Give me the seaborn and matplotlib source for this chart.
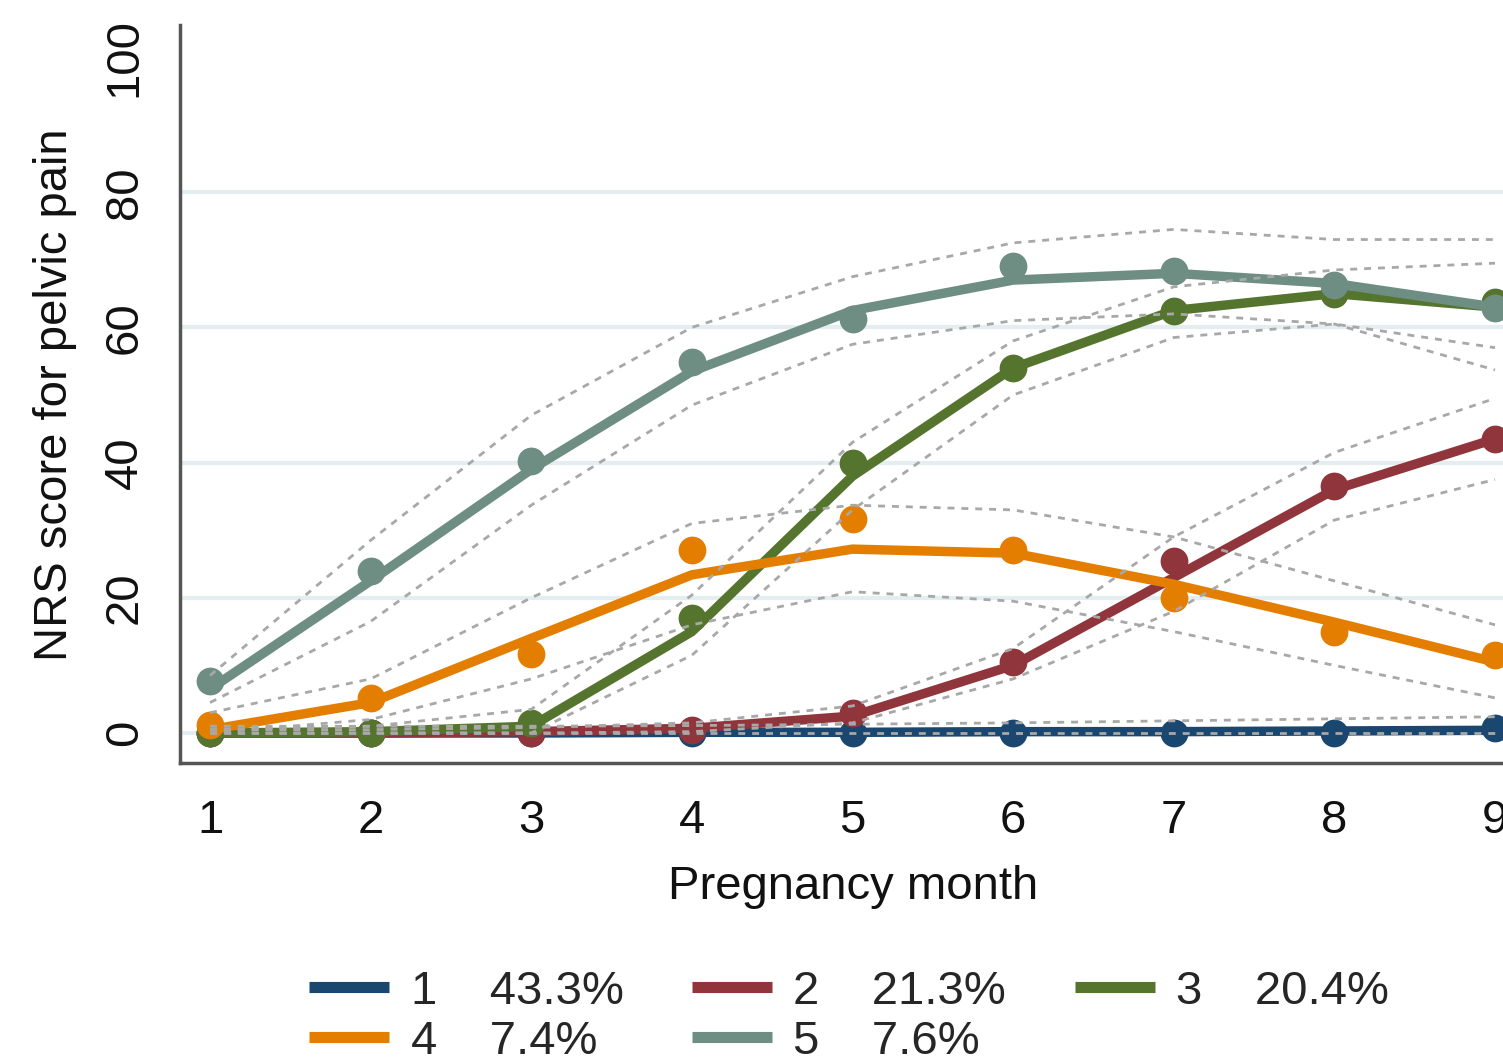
import numpy as np
import pandas as pd
import matplotlib
matplotlib.use("Agg")
import matplotlib.pyplot as plt
from matplotlib.lines import Line2D
import seaborn as sns

months = [1, 2, 3, 4, 5, 6, 7, 8, 9]
groups = ["1", "2", "3", "4", "5"]
shares = ["43.3%", "21.3%", "20.4%", "7.4%", "7.6%"]
colors = ["#1a476f", "#90353b", "#55752f", "#e37e00", "#6e8e84"]

obs_1 = [0, 0, 0, 0, 0, 0, 0, 0, 0.8]
obs_2 = [0, 0, 0, 0.5, 3, 10.5, 25.5, 36.5, 43.5]
obs_3 = [0, 0, 1.5, 17, 40, 54, 62.5, 65, 63.8]
obs_4 = [1.2, 5.2, 11.7, 27, 31.7, 27, 20, 15, 11.5]
obs_5 = [7.7, 24, 40.2, 54.9, 61.2, 69.1, 68.3, 66.3, 62.9]

fit_1 = [0, 0, 0, 0.1, 0.1, 0.2, 0.2, 0.3, 0.4]
fit_2 = [0, 0, 0.2, 0.7, 2.5, 10, 23, 36, 43.5]
fit_3 = [0, 0.2, 1, 15, 38, 54, 62.5, 65, 63]
fit_4 = [0.5, 4.5, 14, 23.4, 27.2, 26.6, 22, 16.4, 10.5]
fit_5 = [6.5, 22.5, 39, 53.5, 62.5, 67, 68, 66.5, 63]

hi_1 = [1.0, 1.0, 1.0, 1.1, 1.3, 1.5, 1.8, 2.1, 2.4]
lo_1 = [0, 0, 0, 0, 0, 0, 0, 0, 0]
hi_2 = [0.5, 0.5, 0.8, 1.5, 4, 12.5, 29, 41.5, 49.5]
lo_2 = [0, 0, 0, 0.2, 1.5, 8, 18, 31.5, 37.5]
hi_3 = [0.5, 1, 3.5, 20.4, 43, 58, 66, 68.5, 69.5]
lo_3 = [0, 0, 0, 11.5, 33, 50, 58.5, 60.5, 57]
hi_4 = [3, 8, 20, 31, 33.7, 33, 29, 22.5, 16]
lo_4 = [0, 2, 8, 16, 20.9, 19.5, 15, 10, 5.2]
hi_5 = [8.5, 28.5, 47, 60, 67.5, 72.5, 74.5, 73, 73]
lo_5 = [4.5, 16.5, 33.7, 48.5, 57.5, 61, 62, 60.5, 53.7]

obs = [obs_1, obs_2, obs_3, obs_4, obs_5]
fit = [fit_1, fit_2, fit_3, fit_4, fit_5]
his = [hi_1, hi_2, hi_3, hi_4, hi_5]
los = [lo_1, lo_2, lo_3, lo_4, lo_5]

rows = []
for g, o, f in zip(groups, obs, fit):
    for m, ov, fv in zip(months, o, f):
        rows.append({"group": g, "month": m, "obs": ov, "fit": fv})
df = pd.DataFrame(rows)

ci_rows = []
for g, h, l in zip(groups, his, los):
    for m, hv, lv in zip(months, h, l):
        ci_rows.append({"band": g + "hi", "month": m, "value": hv})
        ci_rows.append({"band": g + "lo", "month": m, "value": lv})
ci = pd.DataFrame(ci_rows)

sns.set_theme(style="white")
plt.rcParams["font.family"] = ["Liberation Sans", "DejaVu Sans"]

fig = plt.figure(figsize=(15.03, 10.59), dpi=100)
ax = fig.add_axes([180 / 1503, 1 - 763 / 1059, 1345 / 1503, 738 / 1059])

pal = dict(zip(groups, colors))
for g in groups:
    sub = df[df["group"] == g]
    sns.scatterplot(data=sub, x="month", y="obs", color=pal[g], s=400,
                    linewidth=0, ax=ax, zorder=3, legend=False)
    sns.lineplot(data=sub, x="month", y="fit", color=pal[g], lw=6.8,
                 ax=ax, zorder=3, legend=False, estimator=None)

sns.lineplot(data=ci, x="month", y="value", units="band", estimator=None,
             color="#a8a8a8", lw=2.0, linestyle=(0, (2.5, 2.5)), ax=ax,
             zorder=4, legend=False)

ax.set_xlim(1 - 30 / 160.6, 9 + 30 / 160.6)
ax.set_ylim(-(763 - 733) / 6.76, (733 - 25) / 6.76)
ax.set_xticks(months)
ax.set_yticks([0, 20, 40, 60, 80, 100])
for yv in [0, 20, 40, 60, 80]:
    ax.axhline(yv, color="#e4edf0", lw=3, zorder=0)

ax.tick_params(axis="both", which="both", direction="out", length=15, width=2,
               color="#333333", labelsize=34, labelcolor="#111111")
ax.tick_params(axis="y", pad=9, labelrotation=90)
ax.tick_params(axis="x", pad=11)
for lab in ax.get_yticklabels():
    lab.set_va("center")

for s in ["top", "right"]:
    ax.spines[s].set_visible(False)
for s in ["left", "bottom"]:
    ax.spines[s].set_color("#555555")
    ax.spines[s].set_linewidth(2.5)

ax.set_xlabel("Pregnancy month", fontsize=34, color="#111111")
ax.set_ylabel("NRS score for pelvic pain", fontsize=34, color="#111111")
ax.xaxis.label.set_va("center")
ax.yaxis.label.set_va("center")
ax.yaxis.label.set_ha("center")
ax.xaxis.set_label_coords(673 / 1345, -124 / 738)
ax.yaxis.set_label_coords(-125 / 1345, 368 / 738)

handles = [Line2D([0], [0], color=c, lw=8, solid_capstyle="butt") for c in colors]
labels = [f"{g}    {s}" for g, s in zip(groups, shares)]
order = [0, 3, 1, 4, 2]  # row-major layout: 1 2 3 / 4 5
fig.legend([handles[i] for i in order], [labels[i] for i in order],
           loc="upper left", ncol=3, frameon=False,
           bbox_to_anchor=(309 / 1503, 1 - 970 / 1059), fontsize=34,
           handlelength=1.7, handletextpad=0.45, columnspacing=1.45,
           labelspacing=0.12, borderpad=0, borderaxespad=0)

fig.savefig("out.png", dpi=100)
